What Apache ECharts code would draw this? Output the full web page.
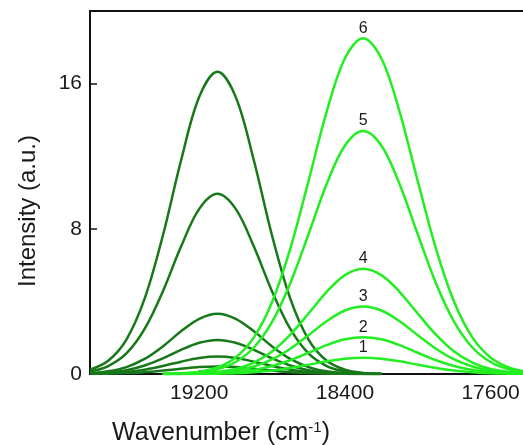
<!DOCTYPE html>
<html>
<head>
<meta charset="utf-8">
<script src="https://cdn.jsdelivr.net/npm/echarts@6/dist/echarts.min.js"></script>
<style>
  html, body { margin: 0; padding: 0; background: #fff; }
  #chart { width: 523px; height: 445px; }
</style>
</head>
<body>
<div id="chart"></div>
<script>
// wavenumbers (cm-1) sampled for each group of bands
const darkX = [19800, 19700, 19600, 19500, 19400, 19300, 19200, 19100, 19000, 18900, 18800, 18700, 18600, 18500, 18400, 18300, 18200]
const brightX = [19400, 19300, 19200, 19100, 19000, 18900, 18800, 18700, 18600, 18500, 18400, 18300, 18200, 18100, 18000, 17900, 17800, 17700, 17600, 17500, 17400]

// dark green band (~19100 cm-1), curves 1..6
const dark1 = [0.01, 0.02, 0.05, 0.10, 0.19, 0.29, 0.38, 0.41, 0.38, 0.29, 0.19, 0.10, 0.05, 0.02, 0.01, 0.00, 0.00]
const dark2 = [0.01, 0.04, 0.11, 0.24, 0.44, 0.68, 0.88, 0.96, 0.88, 0.68, 0.44, 0.24, 0.11, 0.04, 0.01, 0.00, 0.00]
const dark3 = [0.03, 0.08, 0.21, 0.47, 0.86, 1.33, 1.72, 1.88, 1.72, 1.33, 0.86, 0.47, 0.21, 0.08, 0.03, 0.01, 0.00]
const dark4 = [0.05, 0.15, 0.38, 0.83, 1.52, 2.35, 3.04, 3.32, 3.04, 2.35, 1.52, 0.83, 0.38, 0.15, 0.05, 0.01, 0.00]
const dark5 = [0.14, 0.44, 1.13, 2.48, 4.55, 7.02, 9.10, 9.93, 9.10, 7.02, 4.55, 2.48, 1.13, 0.44, 0.14, 0.04, 0.01]
const dark6 = [0.24, 0.73, 1.90, 4.15, 7.62, 11.76, 15.27, 16.65, 15.27, 11.76, 7.62, 4.15, 1.90, 0.73, 0.24, 0.06, 0.01]

// bright green band (~18300 cm-1), curves 1..6
const bright1 = [0.00, 0.00, 0.01, 0.02, 0.04, 0.10, 0.19, 0.33, 0.51, 0.70, 0.84, 0.89, 0.84, 0.70, 0.51, 0.33, 0.19, 0.10, 0.04, 0.02, 0.01]
const bright2 = [0.00, 0.00, 0.01, 0.04, 0.10, 0.22, 0.44, 0.76, 1.17, 1.59, 1.91, 2.03, 1.91, 1.59, 1.17, 0.76, 0.44, 0.22, 0.10, 0.04, 0.01]
const bright3 = [0.00, 0.01, 0.03, 0.07, 0.18, 0.41, 0.80, 1.39, 2.14, 2.91, 3.50, 3.72, 3.50, 2.91, 2.14, 1.39, 0.80, 0.41, 0.18, 0.07, 0.03]
const bright4 = [0.00, 0.01, 0.04, 0.11, 0.28, 0.63, 1.24, 2.17, 3.33, 4.53, 5.45, 5.80, 5.45, 4.53, 3.33, 2.17, 1.24, 0.63, 0.28, 0.11, 0.04]
const bright5 = [0.01, 0.03, 0.09, 0.26, 0.66, 1.46, 2.87, 5.00, 7.70, 10.47, 12.59, 13.39, 12.59, 10.47, 7.70, 5.00, 2.87, 1.46, 0.66, 0.26, 0.09]
const bright6 = [0.01, 0.04, 0.13, 0.36, 0.91, 2.02, 3.97, 6.91, 10.63, 14.46, 17.40, 18.50, 17.40, 14.46, 10.63, 6.91, 3.97, 2.02, 0.91, 0.36, 0.13]

const curveNames = ['1', '2', '3', '4', '5', '6']
const xTicks = [19200, 18400, 17600]
const yTicks = [0, 8, 16]

const darkSets = [dark1, dark2, dark3, dark4, dark5, dark6]
const brightSets = [bright1, bright2, bright3, bright4, bright5, bright6]

const chart = echarts.init(document.getElementById('chart'), null, { renderer: 'canvas' })

const pairUp = (xs, ys) => xs.map((x, i) => [x, ys[i]])
const fontFam = 'Liberation Sans, Arial, sans-serif'

// peak label sits on the highest point of each bright curve
function peakMark (xs, ys, name) {
  let k = 0
  ys.forEach((v, i) => { if (v > ys[k]) k = i })
  return {
    symbol: 'circle',
    symbolSize: 0,
    silent: true,
    label: {
      show: true,
      position: 'top',
      distance: 2,
      formatter: name,
      color: '#1a1a1a',
      fontSize: 16,
      fontFamily: fontFam
    },
    data: [{ coord: [xs[k], ys[k]] }]
  }
}

const series = []
darkSets.forEach((ys, i) => {
  series.push({
    name: 'dark ' + curveNames[i],
    type: 'line',
    data: pairUp(darkX, ys),
    smooth: 0.35,
    showSymbol: false,
    lineStyle: { color: '#17781a', width: 2.5 },
    z: 2
  })
})
brightSets.forEach((ys, i) => {
  series.push({
    name: 'bright ' + curveNames[i],
    type: 'line',
    data: pairUp(brightX, ys),
    smooth: 0.35,
    showSymbol: false,
    lineStyle: { color: '#22ee22', width: 2.5 },
    markPoint: peakMark(brightX, ys, curveNames[i]),
    z: 3
  })
})

const option = {
  animation: false,
  backgroundColor: '#fff',
  grid: {
    left: 90,
    top: 11,
    width: 437,
    bottom: 71,
    outerBoundsMode: 'none',
    containLabel: false,
    show: true,
    borderColor: '#111',
    borderWidth: 2
  },
  xAxis: {
    type: 'value',
    inverse: true,
    min: 17400,
    max: 19800,
    name: 'Wavenumber (cm{sup|-1})',
    nameLocation: 'middle',
    nameGap: 46,
    nameTextStyle: {
      fontSize: 25,
      color: '#1a1a1a',
      fontFamily: fontFam,
      padding: [0, 175, 0, 0],
      rich: {
        sup: { fontSize: 15, verticalAlign: 'top', color: '#1a1a1a', fontFamily: fontFam, padding: [0, 0, 12, 0] }
      }
    },
    axisLine: { onZero: false, lineStyle: { color: '#111', width: 2 } },
    axisTick: { inside: true, length: 4, customValues: xTicks, lineStyle: { color: '#111', width: 1.5 } },
    axisLabel: {
      customValues: xTicks,
      formatter: (v) => String(v),
      fontSize: 21,
      color: '#1a1a1a',
      fontFamily: fontFam,
      margin: 9
    },
    splitLine: { show: false }
  },
  yAxis: {
    type: 'value',
    min: 0,
    max: 20,
    name: 'Intensity (a.u.)',
    nameLocation: 'middle',
    nameGap: 50,
    nameTextStyle: {
      fontSize: 24,
      color: '#1a1a1a',
      fontFamily: fontFam,
      padding: [0, 37, 0, 0]
    },
    axisLine: { show: true, lineStyle: { color: '#111', width: 2 } },
    axisTick: { inside: true, length: 7, customValues: yTicks, lineStyle: { color: '#111', width: 1.5 } },
    axisLabel: {
      customValues: yTicks,
      formatter: (v) => String(v),
      fontSize: 21,
      color: '#1a1a1a',
      fontFamily: fontFam,
      margin: 8
    },
    splitLine: { show: false }
  },
  series: series
}

chart.setOption(option)
</script>
</body>
</html>
